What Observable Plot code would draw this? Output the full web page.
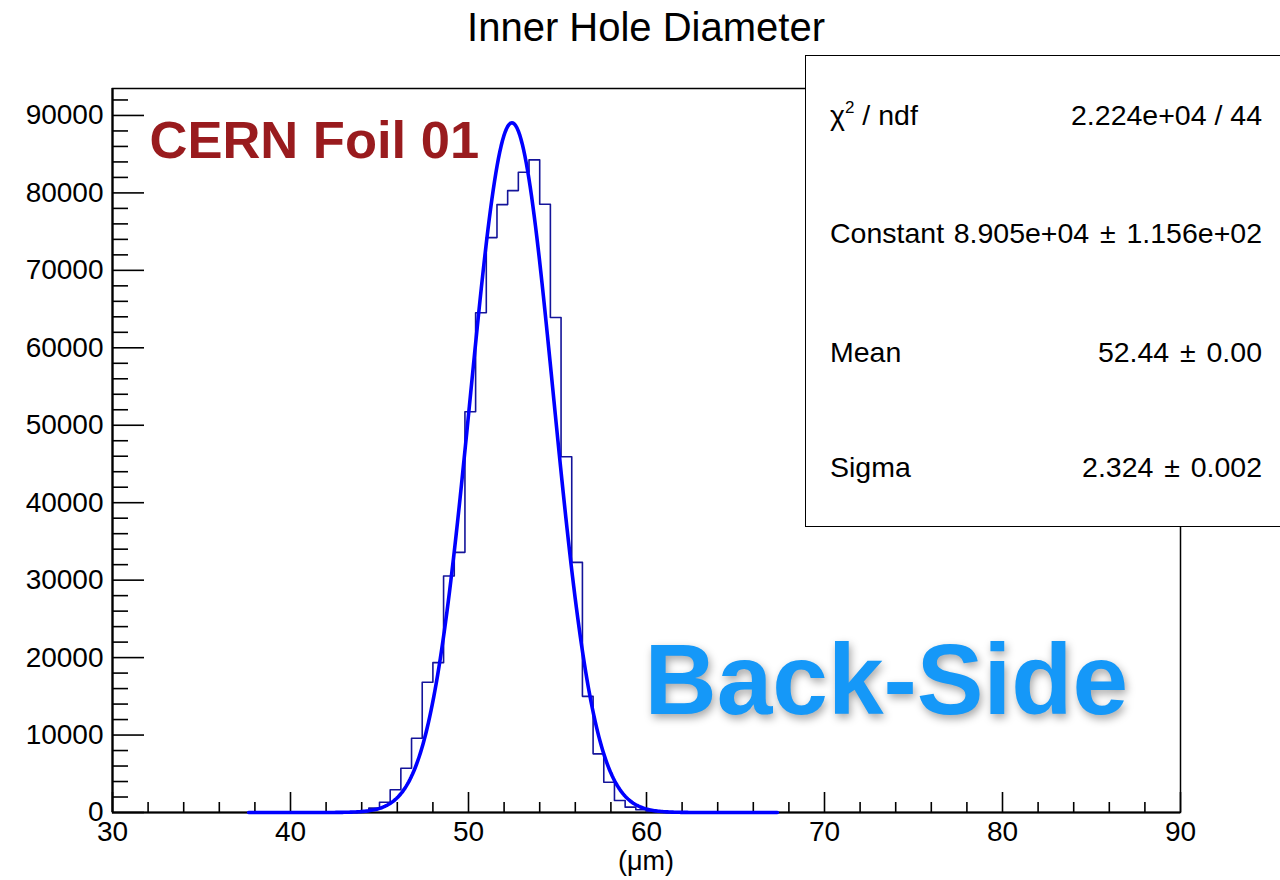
<!DOCTYPE html>
<html><head><meta charset="utf-8">
<script src="https://cdn.jsdelivr.net/npm/d3@7"></script>
<script src="https://cdn.jsdelivr.net/npm/@observablehq/plot@0.6"></script>
<style>
html,body{margin:0;padding:0;background:#fff;}
#wrap{position:relative;width:1280px;height:880px;overflow:hidden;font-family:"Liberation Sans",Arial,Helvetica,sans-serif;color:#000;}
#chart{position:absolute;left:0;top:0;}
.abs{position:absolute;white-space:nowrap;line-height:1;}
#title{left:0;width:1292px;text-align:center;top:7px;font-size:40px;}
#xlabel{left:0;width:1292px;text-align:center;top:848px;font-size:27px;}
#stats{position:absolute;left:805px;top:55px;width:500px;height:470px;border:1.6px solid #000;background:#fff;}
.srow{font-size:28.5px;}
.srow sup{font-size:17px;vertical-align:0;position:relative;top:-12px;}
.pm{display:inline-block;margin:0 0.38em;}
</style></head><body>
<div id="wrap">
  <div id="chart"></div>
  <div class="abs" id="title">Inner Hole Diameter</div>
  <div class="abs" id="xlabel">(μm)</div>
  <div id="stats"></div>
</div>
<script>
// ---- data ----
const binLow = [37.8, 38.4, 39.0, 39.6, 40.2, 40.8, 41.4, 42.0, 42.6, 43.2,
                43.8, 44.4, 45.0, 45.6, 46.2, 46.8, 47.4, 48.0, 48.6, 49.2,
                49.8, 50.4, 51.0, 51.6, 52.2, 52.8, 53.4, 54.0, 54.6, 55.2,
                55.8, 56.4, 57.0, 57.6, 58.2, 58.8, 59.4, 60.0, 60.6, 61.2,
                61.8, 62.4, 63.0, 63.6, 64.2, 64.8, 65.4, 66.0, 66.6];
const binWidth = 0.6;
const counts = [0, 0, 0, 0, 0, 0, 0, 0, 10, 40,
                150, 560, 1330, 2930, 5720, 9590, 16810, 19350, 30540, 33590,
                51740, 64520, 74230, 78490, 80300, 82670, 84260, 78540, 63910, 45940,
                32300, 15000, 7570, 3910, 1550, 690, 350, 120, 40, 10,
                0, 0, 0, 0, 0, 0, 0, 0, 0];
// Gaussian fit parameters (from the stats box)
const fitConstant = 8.905e4;
const fitMean = 52.44;
const fitSigma = 2.324;
const fitRange = [37.65, 67.35];

const xMajor = [30, 40, 50, 60, 70, 80, 90];
const xMinor = [32, 34, 36, 38, 42, 44, 46, 48, 52, 54, 56, 58, 62, 64, 66, 68, 72, 74, 76, 78, 82, 84, 86, 88];
const yMajor = [0, 10000, 20000, 30000, 40000, 50000, 60000, 70000, 80000, 90000];
const yMinor = d3.range(2000, 93000, 2000).filter(v => v % 10000 !== 0);

const statsLabels = ["χ<sup>2</sup> / ndf", "Constant", "Mean", "Sigma"];
const statsValues = ["2.224e+04 / 44", "8.905e+04 ± 1.156e+02", "52.44 ± 0.00", "2.324 ± 0.002"];
const annotations = ["CERN Foil 01", "Back-Side"];

// ---- derived tables ----
const steps = binLow.map((x, i) => ({x, y: counts[i]}));
steps.push({x: binLow[binLow.length - 1] + binWidth, y: counts[counts.length - 1]});
const nFit = 400;
const fit = d3.range(nFit + 1).map(i => {
  const x = fitRange[0] + (fitRange[1] - fitRange[0]) * i / nFit;
  return {x, y: fitConstant * Math.exp(-0.5 * ((x - fitMean) / fitSigma) ** 2)};
});

const W = 1280, H = 880, mL = 112, mR = 100, mT = 88, mB = 68;
const fw = W - mL - mR, fh = H - mT - mB;

const plot = Plot.plot({
  width: W, height: H,
  marginLeft: mL, marginRight: mR, marginTop: mT, marginBottom: mB,
  x: {domain: [30, 90]},
  y: {domain: [0, 93480]},
  style: {fontFamily: "Liberation Sans, Arial, Helvetica, sans-serif", background: "transparent", color: "#000", overflow: "visible"},
  marks: [
    Plot.tickY(yMajor, {y: d => d, insetRight: fw - 32, stroke: "#000", strokeWidth: 1.6}),
    Plot.tickY(yMinor, {y: d => d, insetRight: fw - 16, stroke: "#000", strokeWidth: 1.6}),
    Plot.tickX(xMajor, {x: d => d, insetTop: fh - 20, stroke: "#000", strokeWidth: 1.6}),
    Plot.tickX(xMinor, {x: d => d, insetTop: fh - 10, stroke: "#000", strokeWidth: 1.6}),
    Plot.axisY(yMajor, {anchor: "left", tickSize: 0, tickPadding: 9, fontSize: 28, label: null, tickFormat: d => String(d)}),
    Plot.axisX(xMajor, {anchor: "bottom", tickSize: 0, tickPadding: 9, fontSize: 28, label: null, tickFormat: d => String(d)}),
    Plot.frame({stroke: "#000", strokeWidth: 1.5}),
    Plot.ruleY([0], {stroke: "#000", strokeWidth: 2.2}),
    Plot.ruleX([30], {stroke: "#000", strokeWidth: 2.2}),
    Plot.line(steps, {x: "x", y: "y", curve: "step-after", stroke: "#14149a", strokeWidth: 1.6}),
    Plot.line(fit, {x: "x", y: "y", stroke: "#0000ff", strokeWidth: 3.6}),
    Plot.text([annotations[0]], {text: d => d, frameAnchor: "top-left", dx: 37, dy: 69, lineAnchor: "bottom", textAnchor: "start", fontSize: 52.5, fontWeight: "bold", fill: "#991b1e"}),
    Plot.text([annotations[1]], {text: d => d, frameAnchor: "top-left", dx: 532, dy: 625, lineAnchor: "bottom", textAnchor: "start", fontSize: 100, fontWeight: "bold", fill: "#1598f8"})
  ]
});
document.getElementById("chart").appendChild(plot);
plot.querySelectorAll("text").forEach(t => {
  if (t.textContent === "Back-Side") t.style.filter = "drop-shadow(2px 4px 4px rgba(0,0,0,0.35))";
});

// stats box rows
const wrap = document.getElementById("wrap");
const baselines = [125, 243, 362, 477];
statsLabels.forEach((lab, i) => {
  const l = document.createElement("div");
  l.className = "abs srow";
  l.style.left = "830px";
  l.style.top = (baselines[i] - 24.1) + "px";
  l.innerHTML = lab;
  wrap.appendChild(l);
  const r = document.createElement("div");
  r.className = "abs srow";
  r.style.right = "18px";
  r.style.top = (baselines[i] - 24.1) + "px";
  r.innerHTML = statsValues[i].replace(" ± ", '<span class="pm">±</span>');
  wrap.appendChild(r);
});
</script>
</body></html>
